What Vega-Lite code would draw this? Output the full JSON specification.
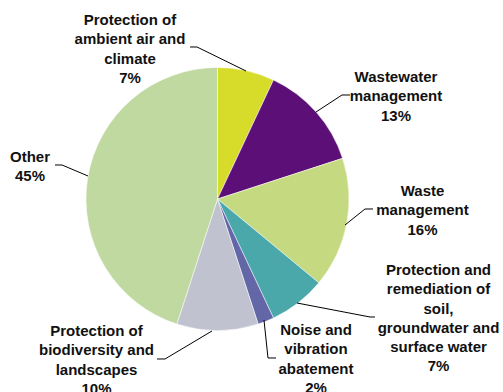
{
  "$schema": "https://vega.github.io/schema/vega-lite/v6.json",
  "width": 503,
  "height": 392,
  "padding": 0,
  "autosize": {"type": "none"},
  "background": "white",
  "config": {"view": {"stroke": null}},
  "datasets": {
    "slices": [
      {"idx": 1, "cat": "Protection of ambient air and climate", "value": 7},
      {"idx": 2, "cat": "Wastewater management", "value": 13},
      {"idx": 3, "cat": "Waste management", "value": 16},
      {"idx": 4, "cat": "Protection and remediation of soil, groundwater and surface water", "value": 7},
      {"idx": 5, "cat": "Noise and vibration abatement", "value": 2},
      {"idx": 6, "cat": "Protection of biodiversity and landscapes", "value": 10},
      {"idx": 7, "cat": "Other", "value": 45}
    ],
    "labels": [
      {"text": "Protection of\nambient air and\nclimate\n7%", "X": -66.54, "Y": 132.32},
      {"text": "Wastewater\nmanagement\n13%", "X": 135.74, "Y": 88.97},
      {"text": "Other\n45%", "X": -142.59, "Y": 28.14},
      {"text": "Waste\nmanagement\n16%", "X": 155.89, "Y": 2.28},
      {"text": "Protection and\nremediation of\nsoil,\ngroundwater and\nsurface water\n7%", "X": 168.06, "Y": -57.79},
      {"text": "Noise and\nvibration\nabatement\n2%", "X": 74.9, "Y": -103.42},
      {"text": "Protection of\nbiodiversity and\nlandscapes\n10%", "X": -92.02, "Y": -104.18}
    ],
    "leaders": [
      {"g": "air", "o": 1, "X": -20.91, "Y": 115.59},
      {"g": "air", "o": 2, "X": -15.59, "Y": 115.59},
      {"g": "air", "o": 3, "X": 21.67, "Y": 97.34},
      {"g": "ww", "o": 1, "X": 100.76, "Y": 79.09},
      {"g": "ww", "o": 2, "X": 94.68, "Y": 79.09},
      {"g": "ww", "o": 3, "X": 74.9, "Y": 66.16},
      {"g": "oth", "o": 1, "X": -123.57, "Y": 25.86},
      {"g": "oth", "o": 2, "X": -118.25, "Y": 25.86},
      {"g": "oth", "o": 3, "X": -98.48, "Y": 17.49},
      {"g": "waste", "o": 1, "X": 118.25, "Y": -7.6},
      {"g": "waste", "o": 2, "X": 112.17, "Y": -7.6},
      {"g": "waste", "o": 3, "X": 96.96, "Y": -19.77},
      {"g": "soil", "o": 1, "X": 60.46, "Y": -79.09},
      {"g": "soil", "o": 2, "X": 115.97, "Y": -89.73},
      {"g": "soil", "o": 3, "X": 119.77, "Y": -89.73},
      {"g": "noise", "o": 1, "X": 35.36, "Y": -92.02},
      {"g": "noise", "o": 2, "X": 38.4, "Y": -120.91},
      {"g": "noise", "o": 3, "X": 44.49, "Y": -120.91},
      {"g": "bio", "o": 1, "X": -4.18, "Y": -100.38},
      {"g": "bio", "o": 2, "X": -39.92, "Y": -121.67},
      {"g": "bio", "o": 3, "X": -46.01, "Y": -121.67}
    ]
  },
  "layer": [
    {
      "data": {"name": "slices"},
      "mark": {"type": "arc", "outerRadius": 131.5, "stroke": "white", "strokeWidth": 0.5},
      "encoding": {
        "theta": {"field": "value", "type": "quantitative", "stack": true},
        "order": {"field": "idx", "type": "quantitative"},
        "x": {"datum": 0, "type": "quantitative", "scale": {"domain": [-165.4, 217.11], "nice": false, "zero": false}, "axis": null},
        "y": {"datum": 0, "type": "quantitative", "scale": {"domain": [-146.77, 151.33], "nice": false, "zero": false}, "axis": null},
        "color": {
          "field": "cat", "type": "nominal", "legend": null,
          "scale": {
            "domain": ["Protection of ambient air and climate", "Wastewater management", "Waste management", "Protection and remediation of soil, groundwater and surface water", "Noise and vibration abatement", "Protection of biodiversity and landscapes", "Other"],
            "range": ["#d7dc2b", "#5b0f77", "#c5d981", "#4aa8ab", "#6467a7", "#c0c2d0", "#bfd9a0"]
          }
        }
      }
    },
    {
      "data": {"name": "leaders"},
      "mark": {"type": "line", "color": "black", "strokeWidth": 1},
      "encoding": {
        "x": {"field": "X", "type": "quantitative", "scale": {"domain": [-165.4, 217.11], "nice": false, "zero": false}, "axis": null},
        "y": {"field": "Y", "type": "quantitative", "scale": {"domain": [-146.77, 151.33], "nice": false, "zero": false}, "axis": null},
        "detail": {"field": "g", "type": "nominal"},
        "order": {"field": "o", "type": "quantitative"}
      }
    },
    {
      "data": {"name": "labels"},
      "mark": {"type": "text", "lineBreak": "\n", "font": "Liberation Sans", "fontWeight": "bold", "fontSize": 15, "lineHeight": 19.3, "align": "center", "baseline": "alphabetic", "color": "#111111"},
      "encoding": {
        "x": {"field": "X", "type": "quantitative", "scale": {"domain": [-165.4, 217.11], "nice": false, "zero": false}, "axis": null},
        "y": {"field": "Y", "type": "quantitative", "scale": {"domain": [-146.77, 151.33], "nice": false, "zero": false}, "axis": null},
        "text": {"field": "text", "type": "nominal"}
      }
    }
  ]
}
